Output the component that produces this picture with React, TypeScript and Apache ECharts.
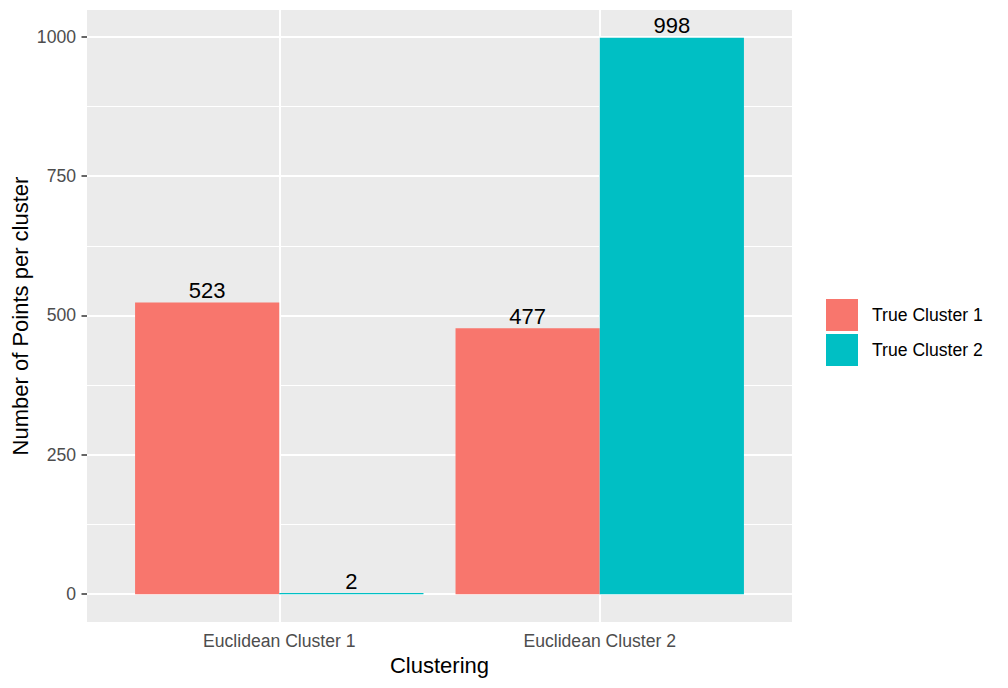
import React, { useEffect, useRef } from "react";
import * as echarts from "echarts";

const categories = ["Euclidean Cluster 1", "Euclidean Cluster 2"];
const seriesNames = ["True Cluster 1", "True Cluster 2"];
const trueCluster1 = [523, 477];
const trueCluster2 = [2, 998];
const yTicks = [0, 250, 500, 750, 1000];
const yMinorTicks = [125, 375, 625, 875];
const colors = ["#F8766D", "#00BFC4"];

const FONT = "'Liberation Sans', Arial, sans-serif";

export default function App() {
  const ref = useRef<HTMLDivElement>(null);

  useEffect(() => {
    if (!ref.current) return;
    const chart = echarts.init(ref.current, undefined, { renderer: "svg" });

    const xMin = 0.4;
    const xMax = categories.length + 0.6;
    const gridLeft = 87;
    const gridRight = 216;
    const gridWidth = 1008 - gridLeft - gridRight;
    const unitPx = gridWidth / (xMax - xMin);
    const barW = unitPx * 0.45;

    const dataMax = Math.max(...trueCluster1, ...trueCluster2);
    const yMin = -dataMax * 0.05;
    const yMax = dataMax * 1.05;

    const xCats = categories.map((_, i) => i + 1);

    const mkBar = (name: string, vals: number[], color: string) => ({
      type: "bar",
      name,
      data: vals.map((v, i) => [xCats[i], v]),
      barWidth: barW,
      barGap: "0%",
      itemStyle: { color },
      z: 3,
      label: {
        show: true,
        position: "top",
        distance: 1,
        color: "#000",
        fontSize: 22,
        fontFamily: FONT,
      },
    });

    chart.setOption({
      animation: false,
      backgroundColor: "#FFFFFF",
      textStyle: { fontFamily: FONT },
      grid: {
        left: gridLeft,
        right: gridRight,
        top: 10,
        bottom: 66,
        show: true,
        backgroundColor: "#EBEBEB",
        borderWidth: 0,
        containLabel: false,
        outerBoundsMode: "none",
      },
      legend: {
        orient: "vertical",
        left: 821,
        top: 294,
        itemWidth: 32,
        itemHeight: 32,
        itemGap: 3,
        icon: "rect",
        data: seriesNames,
        textStyle: {
          color: "#000",
          fontSize: 17.6,
          fontFamily: FONT,
          padding: [0, 0, 0, 9],
        },
      },
      xAxis: {
        type: "value",
        min: xMin,
        max: xMax,
        name: "Clustering",
        nameLocation: "middle",
        nameGap: 32,
        nameTextStyle: { color: "#000", fontSize: 22, fontFamily: FONT },
        axisLine: { show: false },
        splitLine: { show: false },
        axisTick: {
          show: true,
          customValues: xCats,
          length: 5.5,
          lineStyle: { color: "#333333", width: 1.5 },
        },
        axisLabel: {
          customValues: xCats,
          margin: 10,
          color: "#4D4D4D",
          fontSize: 17.6,
          fontFamily: FONT,
          formatter: (v: number) => categories[Math.round(v) - 1] ?? "",
        },
      },
      yAxis: {
        type: "value",
        min: yMin,
        max: yMax,
        name: "Number of Points per cluster",
        nameLocation: "middle",
        nameRotate: 90,
        nameGap: 56,
        nameMoveOverlap: false,
        nameTextStyle: { color: "#000", fontSize: 22, fontFamily: FONT },
        axisLine: { show: false },
        splitLine: { show: false },
        axisTick: {
          show: true,
          customValues: yTicks,
          length: 5.5,
          lineStyle: { color: "#333333", width: 1.5 },
        },
        axisLabel: {
          customValues: yTicks,
          margin: 11,
          color: "#4D4D4D",
          fontSize: 17.6,
          fontFamily: FONT,
          formatter: (v: number) => String(Math.round(v)),
        },
      },
      series: [
        {
          type: "line",
          name: "_grid",
          data: [],
          silent: true,
          z: 1,
          markLine: {
            silent: true,
            symbol: "none",
            z: 1,
            label: { show: false },
            emphasis: { disabled: true },
            data: [
              ...yMinorTicks.map((v) => ({
                yAxis: v,
                lineStyle: { color: "#FFFFFF", width: 1, type: "solid" },
              })),
              ...yTicks.map((v) => ({
                yAxis: v,
                lineStyle: { color: "#FFFFFF", width: 2, type: "solid" },
              })),
              ...xCats.map((v) => ({
                xAxis: v,
                lineStyle: { color: "#FFFFFF", width: 2, type: "solid" },
              })),
            ],
          },
        },
        mkBar(seriesNames[0], trueCluster1, colors[0]),
        mkBar(seriesNames[1], trueCluster2, colors[1]),
      ],
    });

    return () => chart.dispose();
  }, []);

  return (
    <div
      ref={ref}
      style={{ position: "fixed", left: 0, top: 0, width: 1008, height: 688 }}
    />
  );
}
